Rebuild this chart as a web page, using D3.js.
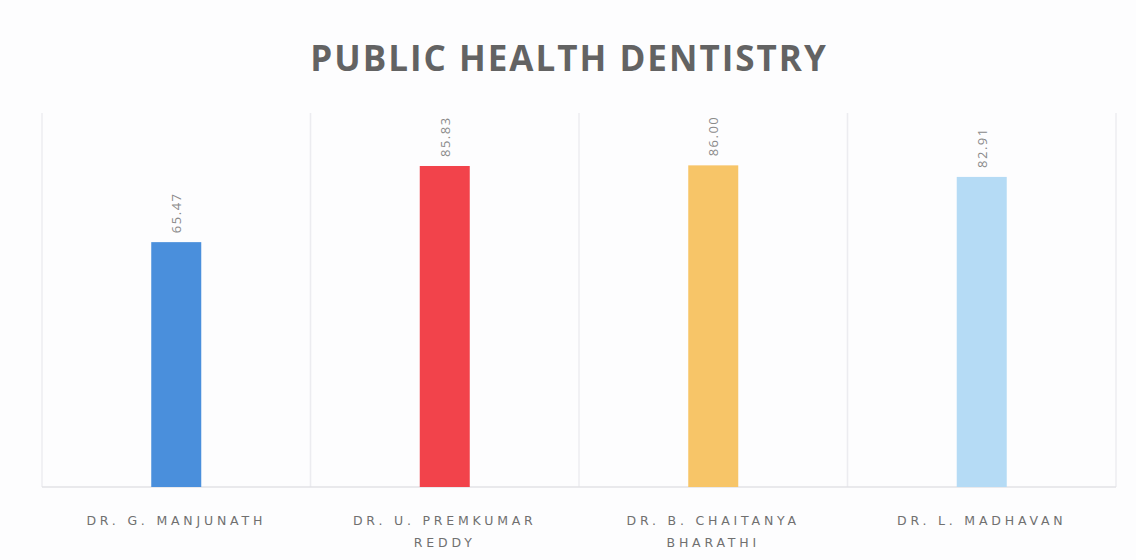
<!DOCTYPE html>
<html><head><meta charset="utf-8">
<script src="https://cdn.jsdelivr.net/npm/d3@7"></script>
<style>body{margin:0;background:#fff;}svg{display:block;}</style>
</head><body>
<script>
const categories = ["DR. G. MANJUNATH", "DR. U. PREMKUMAR REDDY", "DR. B. CHAITANYA BHARATHI", "DR. L. MADHAVAN"];
const labelLines = [["DR. G. MANJUNATH"], ["DR. U. PREMKUMAR", "REDDY"], ["DR. B. CHAITANYA", "BHARATHI"], ["DR. L. MADHAVAN"]];
const values = [65.47, 85.83, 86.00, 82.91];
const colors = ["#4a8fdc", "#f2434b", "#f7c568", "#b5dbf5"];
const yMax = 100;

const W = 1136, H = 560;
const m = {left: 42, right: 20, top: 113, bottom: 73};
const svg = d3.select("body").append("svg").attr("width", W).attr("height", H);
svg.append("rect").attr("width", W).attr("height", H).attr("fill", "#fdfdfe");

const x = d3.scaleBand().domain(categories).range([m.left, W - m.right]).paddingInner(0).paddingOuter(0);
const y = d3.scaleLinear().domain([0, yMax]).range([H - m.bottom, m.top]);

svg.append("text").attr("x", 569).attr("y", 71).attr("text-anchor", "middle")
  .attr("font-family", "'Open Sans', sans-serif").attr("font-weight", 700).attr("font-size", 35)
  .attr("letter-spacing", 2).attr("fill", "#636363").text("PUBLIC HEALTH DENTISTRY");

// category separators
const seps = [m.left].concat(categories.map(c => x(c) + x.bandwidth()));
svg.selectAll("line.sep").data(seps).join("line")
  .attr("x1", d => d).attr("x2", d => d).attr("y1", m.top).attr("y2", H - m.bottom)
  .attr("stroke", "#ececf0").attr("stroke-width", 1.5);

// baseline
svg.append("line").attr("x1", m.left).attr("x2", W - m.right).attr("y1", y(0)).attr("y2", y(0))
  .attr("stroke", "#e2e2e6").attr("stroke-width", 1.5);

const bw = 50;
svg.selectAll("rect.bar").data(values).join("rect")
  .attr("x", (d, i) => x(categories[i]) + x.bandwidth() / 2 - bw / 2)
  .attr("y", d => y(d)).attr("width", bw).attr("height", d => y(0) - y(d))
  .attr("fill", (d, i) => colors[i]);

svg.selectAll("text.val").data(values).join("text")
  .attr("transform", (d, i) => `translate(${x(categories[i]) + x.bandwidth() / 2 + 5},${y(d) - 9}) rotate(-90)`)
  .attr("font-family", "'Open Sans', sans-serif").attr("font-size", 13).attr("letter-spacing", 1.5)
  .attr("fill", "#8a8a8a").attr("text-anchor", "start").text(d => d.toFixed(2));

const lab = svg.selectAll("text.cat").data(labelLines).join("text")
  .attr("text-anchor", "middle").attr("font-family", "'DejaVu Sans', sans-serif")
  .attr("font-size", 12.5).attr("letter-spacing", 3.8).attr("fill", "#707070");
lab.each(function(lines, i) {
  const t = d3.select(this);
  lines.forEach((l, j) => t.append("tspan").attr("x", x(categories[i]) + x.bandwidth() / 2)
    .attr("y", 525 + j * 22).text(l));
});
</script>
</body></html>
